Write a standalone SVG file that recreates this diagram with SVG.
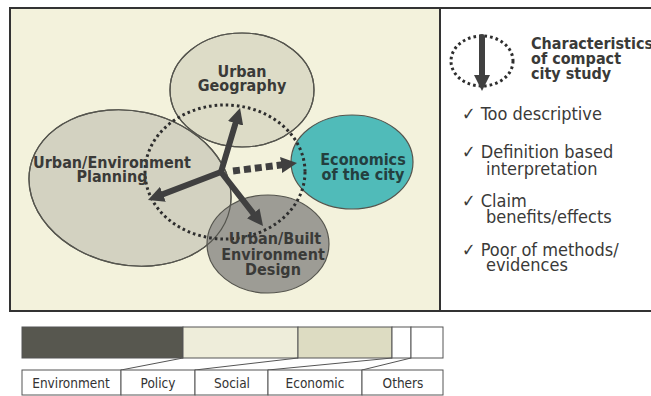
<svg xmlns="http://www.w3.org/2000/svg" width="651" height="396" viewBox="0 0 651 396">
  <defs>
    <style>
      .bg { fill: #ffffff; }
      .panel { fill: #f3f2dc; }
      .frame { fill: none; stroke: #333333; stroke-width: 2; }
      .area { stroke: #55554e; stroke-width: 1.2; }
      .lbl { font-family: "DejaVu Sans Condensed", "DejaVu Sans", Verdana, sans-serif; font-weight: bold; font-size: 16px; fill: #3a3a38; text-anchor: middle; }
      .lbl-eco { fill: #243f3f; }
      .scope { fill: none; stroke: #2e2e2e; stroke-width: 3; stroke-dasharray: 2.6 3; }
      .thrust { fill: none; stroke: #404040; stroke-width: 6; stroke-linecap: round; }
      .thrust-dash { fill: none; stroke: #404040; stroke-width: 7; stroke-dasharray: 7 4; }
      .head { fill: #404040; }
      .title { font-family: "DejaVu Sans Condensed", "DejaVu Sans", Verdana, sans-serif; font-weight: bold; font-size: 16px; fill: #3a3a38; }
      .item { font-family: "DejaVu Sans Condensed", "DejaVu Sans", Verdana, sans-serif; font-size: 18px; fill: #3a3a38; }
      .seg { stroke: #555555; stroke-width: 1; }
      .cell { fill: #ffffff; stroke: #555555; stroke-width: 1; }
      .link { stroke: #555555; stroke-width: 1; fill: none; }
      .cat { font-family: "DejaVu Sans Condensed", "DejaVu Sans", Verdana, sans-serif; font-size: 13.5px; fill: #333333; text-anchor: middle; }
    </style>
    <marker id="arrowhead" markerUnits="userSpaceOnUse" viewBox="0 0 16 16" markerWidth="16" markerHeight="16" refX="6" refY="8" orient="auto">
      <path class="head" d="M0,0 L16,8 L0,16 z"/>
    </marker>
  </defs>

  <rect class="bg" x="0" y="0" width="651" height="396"/>

  <!-- left panel background and frame -->
  <rect class="panel" x="10" y="8" width="430" height="303"/>
  <path class="frame" d="M651,8 H10 V311 H651 M440,8 V311"/>

  <!-- discipline areas -->
  <g id="planning">
    <ellipse class="area" cx="130" cy="188" rx="102" ry="77" transform="rotate(12 130 188)" fill="#d3d2c1"/>
  </g>
  <g id="geography">
    <ellipse class="area" cx="242" cy="90" rx="72" ry="57" fill="#dddcc7"/>
  </g>
  <g id="economics">
    <ellipse class="area" cx="352" cy="162" rx="61" ry="47" fill="#50bbb9"/>
  </g>
  <g id="design">
    <ellipse class="area" cx="268" cy="244" rx="61" ry="49" fill="#9d9c95"/>
  </g>
  <!-- outlines redrawn so every boundary stays visible in overlaps -->
  <g id="area-outlines" fill="none">
    <ellipse class="area" cx="130" cy="188" rx="102" ry="77" transform="rotate(12 130 188)"/>
    <ellipse class="area" cx="242" cy="90" rx="72" ry="57"/>
  </g>

  <!-- compact city study scope and its directions -->
  <g id="connectors">
    <ellipse class="scope" cx="225" cy="172" rx="80" ry="67"/>
    <line class="thrust-dash" x1="233" y1="171" x2="287.1" y2="164.2" marker-end="url(#arrowhead)"/>
    <line class="thrust" x1="221" y1="172" x2="237.2" y2="117.6" marker-end="url(#arrowhead)"/>
    <line class="thrust" x1="221" y1="172" x2="157.3" y2="196.4" marker-end="url(#arrowhead)"/>
    <line class="thrust" x1="221" y1="172" x2="256.9" y2="218.1" marker-end="url(#arrowhead)"/>
  </g>

  <!-- area labels -->
  <g id="labels">
    <text class="lbl" x="242" y="77">Urban</text>
    <text class="lbl" x="242" y="91">Geography</text>
    <text class="lbl" x="112" y="168">Urban/Environment</text>
    <text class="lbl" x="112" y="182">Planning</text>
    <text class="lbl lbl-eco" x="363" y="165">Economics</text>
    <text class="lbl lbl-eco" x="363" y="180">of the city</text>
    <text class="lbl" x="275" y="244">Urban/Built</text>
    <text class="lbl" x="273" y="260">Environment</text>
    <text class="lbl" x="273" y="275">Design</text>
  </g>

  <!-- legend -->
  <g id="legend">
    <ellipse class="scope" cx="482" cy="61" rx="31" ry="25"/>
    <line class="thrust" x1="482" y1="37" x2="482" y2="81" stroke-linecap="butt" marker-end="url(#arrowhead)"/>
    <text class="title" x="531" y="49">Characteristics</text>
    <text class="title" x="531" y="64">of compact</text>
    <text class="title" x="531" y="79">city study</text>
  </g>

  <g id="findings">
    <text class="item" x="462" y="120">✓ Too descriptive</text>
    <text class="item" x="462" y="158">✓ Definition based</text>
    <text class="item" x="486" y="175">interpretation</text>
    <text class="item" x="462" y="207">✓ Claim</text>
    <text class="item" x="486" y="223">benefits/effects</text>
    <text class="item" x="462" y="256">✓ Poor of methods/</text>
    <text class="item" x="486" y="271">evidences</text>
  </g>

  <!-- share of topics -->
  <g id="share-bar">
    <rect class="seg" x="22" y="327" width="161" height="31" fill="#57574f"/>
    <rect class="seg" x="183" y="327" width="115" height="31" fill="#eeedda"/>
    <rect class="seg" x="298" y="327" width="94" height="31" fill="#dddcc2"/>
    <rect class="seg" x="392" y="327" width="19" height="31" fill="#ffffff"/>
    <rect class="seg" x="411" y="327" width="32" height="31" fill="#ffffff"/>
  </g>
  <g id="share-links">
    <line class="link" x1="183" y1="358" x2="121" y2="370"/>
    <line class="link" x1="298" y1="358" x2="195" y2="370"/>
    <line class="link" x1="392" y1="358" x2="268" y2="370"/>
    <line class="link" x1="411" y1="358" x2="362" y2="370"/>
  </g>
  <g id="share-labels">
    <rect class="cell" x="22" y="370" width="99" height="25"/>
    <rect class="cell" x="121" y="370" width="74" height="25"/>
    <rect class="cell" x="195" y="370" width="73" height="25"/>
    <rect class="cell" x="268" y="370" width="94" height="25"/>
    <rect class="cell" x="362" y="370" width="81" height="25"/>
    <text class="cat" x="71" y="388">Environment</text>
    <text class="cat" x="158" y="388">Policy</text>
    <text class="cat" x="232" y="388">Social</text>
    <text class="cat" x="315" y="388">Economic</text>
    <text class="cat" x="403" y="388">Others</text>
  </g>
</svg>
